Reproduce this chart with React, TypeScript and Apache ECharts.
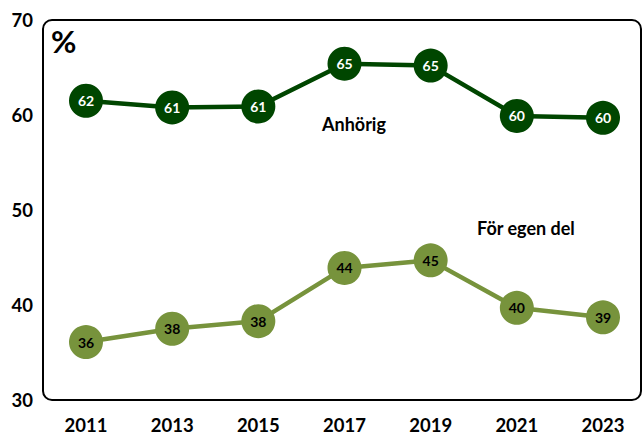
import React, { useEffect, useRef } from "react";
import * as echarts from "echarts";

const years = ["2011", "2013", "2015", "2017", "2019", "2021", "2023"];
const anhorig = [61.5, 60.8, 60.9, 65.4, 65.2, 59.9, 59.7];
const anhorigLabels = [62, 61, 61, 65, 65, 60, 60];
const egen = [36.1, 37.5, 38.3, 43.9, 44.7, 39.7, 38.7];
const egenLabels = [36, 38, 38, 44, 45, 40, 39];
const yTicks = [30, 40, 50, 60, 70];

const FONT = "Lato, 'Open Sans', sans-serif";

export default function App() {
  const ref = useRef<HTMLDivElement>(null);
  useEffect(() => {
    if (!ref.current) return;
    const chart = echarts.init(ref.current, undefined, { renderer: "svg" });
    chart.setOption({
      animation: false,
      grid: { left: 86, right: 40, top: 20, bottom: 35, containLabel: false },
      xAxis: {
        type: "category",
        data: years,
        boundaryGap: false,
        axisLine: { show: false },
        axisTick: { show: false },
        axisLabel: { color: "#000", fontSize: 18.5, fontWeight: "bold", fontFamily: FONT, margin: 15 },
      },
      yAxis: {
        type: "value",
        min: yTicks[0],
        max: yTicks[yTicks.length - 1],
        interval: 10,
        splitLine: { show: false },
        axisLine: { show: false },
        axisTick: { show: false },
        axisLabel: { color: "#000", fontSize: 18.5, fontWeight: "bold", fontFamily: FONT, margin: 53 },
      },
      graphic: [
        {
          type: "rect",
          shape: { x: 43, y: 20, width: 598, height: 380, r: 9 },
          style: { fill: "none", stroke: "#000", lineWidth: 2 },
          z: -1,
        },
        {
          type: "text",
          left: 51,
          top: 25,
          style: { text: "%", fontSize: 31, fontWeight: "bold", fontFamily: FONT, fill: "#000" },
        },
        {
          type: "text",
          left: 322,
          top: 115,
          style: { text: "Anhörig", fontSize: 18, fontWeight: "bold", fontFamily: FONT, fill: "#000" },
        },
        {
          type: "text",
          left: 477,
          top: 219,
          style: { text: "För egen del", fontSize: 18, fontWeight: "bold", fontFamily: FONT, fill: "#000" },
        },
      ],
      series: [
        {
          type: "line",
          data: anhorig,
          symbol: "circle",
          symbolSize: 34,
          lineStyle: { color: "#004600", width: 4.5 },
          itemStyle: { color: "#004600" },
          label: {
            show: true,
            position: "inside",
            color: "#fff",
            fontSize: 14,
            fontWeight: "bold",
            fontFamily: FONT,
            formatter: (p: any) => String(anhorigLabels[p.dataIndex]),
          },
        },
        {
          type: "line",
          data: egen,
          symbol: "circle",
          symbolSize: 34,
          lineStyle: { color: "#77933C", width: 4.5 },
          itemStyle: { color: "#77933C" },
          label: {
            show: true,
            position: "inside",
            color: "#000",
            fontSize: 14,
            fontWeight: "bold",
            fontFamily: FONT,
            formatter: (p: any) => String(egenLabels[p.dataIndex]),
          },
        },
      ],
    });
    return () => chart.dispose();
  }, []);
  return <div ref={ref} style={{ width: 643, height: 435, position: "absolute", left: 0, top: 0 }} />;
}
